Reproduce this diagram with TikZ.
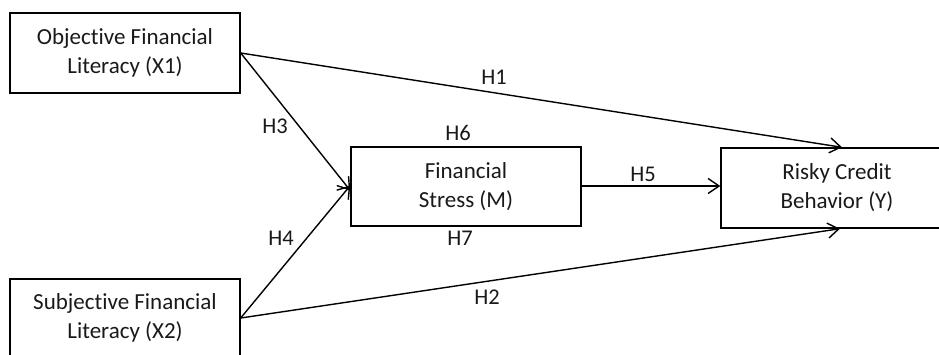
\documentclass[tikz,border=0pt]{standalone}
\usepackage{fontspec}
\setmainfont{Carlito}[Ligatures=NoCommon]
\usetikzlibrary{arrows.meta}
\begin{document}
\begin{tikzpicture}[x=1pt,y=-1pt,
  box/.style={draw,line width=1.4pt,inner sep=0pt,align=center,
    font=\fontsize{23}{29}\selectfont,text=black!90},
  lbl/.style={font=\fontsize{22.5}{24}\selectfont,text=black!90},
  conn/.style={line width=1.4pt,-{Straight Barb[length=11pt,width=15pt,line width=1.4pt]}}]
\useasboundingbox (0,0) rectangle (939,354);
\clip (0,0) rectangle (939,354);
\node[box,minimum width=230pt,minimum height=80pt] (X1) at (125,53) {Objective Financial\\Literacy (X1)};
\node[box,minimum width=230pt,minimum height=78pt] (X2) at (125,318) {Subjective Financial\\Literacy (X2)};
\node[box,minimum width=230pt,minimum height=79pt] (M) at (466,186.5) {Financial\\Stress (M)};
\node[box,minimum width=232pt,minimum height=80pt] (Y) at (837,188) {Risky Credit\\Behavior (Y)};
\draw[conn] (X1.east) -- ([xshift=5pt]Y.north);
\draw[conn] (X1.east) -- ([yshift=-4pt]M.west);
\draw[conn] (X2.east) -- ([yshift=1pt]M.west);
\draw[conn] (X2.east) -- ([xshift=3pt]Y.south);
\draw[conn] ([yshift=0.5pt]M.east) -- ([yshift=0.5pt]M.east -| Y.west);
\node[lbl] (h1) at (494,77) {H1};
\node[lbl] (h2) at (487,297) {H2};
\node[lbl] (h3) at (275,126) {H3};
\node[lbl] (h4) at (281,238) {H4};
\node[lbl] (h5) at (643,174) {H5};
\node[lbl] (h6) at (458,133) {H6};
\node[lbl] (h7) at (460,238) {H7};
\end{tikzpicture}
\end{document}
